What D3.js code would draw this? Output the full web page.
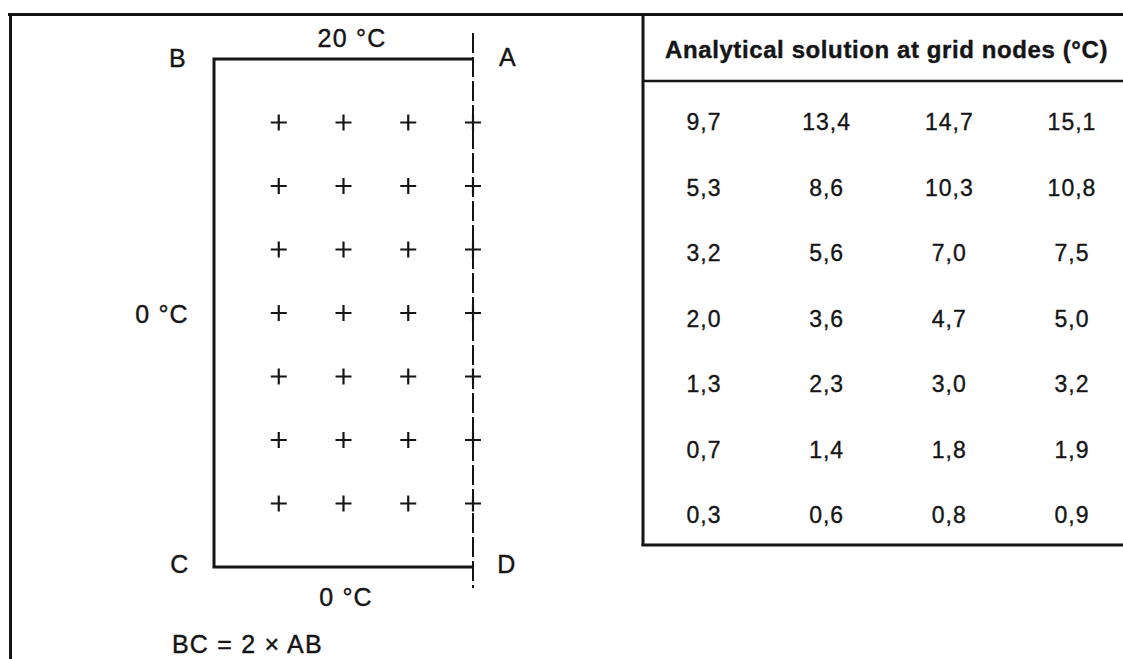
<!DOCTYPE html>
<html><head><meta charset="utf-8">
<script src="https://cdn.jsdelivr.net/npm/d3@7"></script>
<style>html,body{margin:0;padding:0;background:#fff;}svg{display:block;font-family:"Liberation Sans",Arial,sans-serif;}</style>
</head><body>
<svg id="c" width="1123" height="659"></svg>
<script>
// ---- data ----
const tableTitle = "Analytical solution at grid nodes (°C)";
const row1 = ["9,7","13,4","14,7","15,1"];
const row2 = ["5,3","8,6","10,3","10,8"];
const row3 = ["3,2","5,6","7,0","7,5"];
const row4 = ["2,0","3,6","4,7","5,0"];
const row5 = ["1,3","2,3","3,0","3,2"];
const row6 = ["0,7","1,4","1,8","1,9"];
const row7 = ["0,3","0,6","0,8","0,9"];
const tableRows = [row1,row2,row3,row4,row5,row6,row7];
const gridCols = [1,2,3,4];          // node column indices (4 = symmetry line AD)
const gridRows = [1,2,3,4,5,6,7];    // node row indices
const cornerLabels = ["B","A","C","D"];
const edgeLabels = ["20 °C","0 °C","0 °C"];
const note = "BC = 2 × AB";

const ink = "#151515";
const svg = d3.select("#c");
// scales for the plate diagram (grid units)
const x = d3.scaleLinear().domain([0,4]).range([214,473]);
const y = d3.scaleLinear().domain([0,8]).range([59,567]);
// scales for the table
const tx = d3.scalePoint().domain([0,1,2,3]).range([704,1072]);
const ty = d3.scalePoint().domain(d3.range(7)).range([130,523]);

// outer frame
svg.append("line").attr("x1",8).attr("x2",1123).attr("y1",14.5).attr("y2",14.5).attr("stroke",ink).attr("stroke-width",3);
svg.append("line").attr("x1",10.5).attr("x2",10.5).attr("y1",13).attr("y2",659).attr("stroke",ink).attr("stroke-width",3);

// plate: A-B, B-C, C-D solid
svg.append("path")
  .attr("d",`M${x(4)},${y(0)}H${x(0)}V${y(8)}H${x(4)}`)
  .attr("fill","none").attr("stroke",ink).attr("stroke-width",3);
// dashed symmetry line through A-D
svg.append("line").attr("x1",x(4)).attr("x2",x(4)).attr("y1",y(0)-26).attr("y2",y(8)+21)
  .attr("stroke",ink).attr("stroke-width",2).attr("stroke-dasharray","20,4");

// grid node crosses
const nodes = [];
gridRows.forEach(r=>gridCols.forEach(c=>nodes.push({r,c})));
const arm = 8;
const g = svg.append("g").attr("stroke",ink).attr("stroke-width",2.2);
g.selectAll("path.cross").data(nodes).join("path").attr("class","cross")
  .attr("d",d=>`M${x(d.c)-arm},${y(d.r)}h${2*arm}M${x(d.c)},${y(d.r)-arm}v${2*arm}`);

// labels
const lab = (t,xx,yy,anchor="middle",size=25,weight="normal",ls=1.2) =>
  svg.append("text").attr("x",xx).attr("y",yy).attr("text-anchor",anchor)
     .attr("font-size",size).attr("font-weight",weight).attr("letter-spacing",ls)
     .attr("fill",ink).attr("stroke",ink).attr("stroke-width",0.4).text(t);
lab(cornerLabels[0], 178, 67);
lab(cornerLabels[1], 508, 66);
lab(cornerLabels[2], 180, 573);
lab(cornerLabels[3], 507, 573);
lab(edgeLabels[0], 352, 47);
lab(edgeLabels[1], 162, 323);
lab(edgeLabels[2], 346, 606);
lab(note, 172, 653, "start");

// table
const tLeft = 643;
svg.append("line").attr("x1",tLeft).attr("x2",tLeft).attr("y1",13).attr("y2",546).attr("stroke",ink).attr("stroke-width",3);
svg.append("line").attr("x1",tLeft).attr("x2",1123).attr("y1",81).attr("y2",81).attr("stroke",ink).attr("stroke-width",2.5);
svg.append("line").attr("x1",tLeft-1.5).attr("x2",1123).attr("y1",545).attr("y2",545).attr("stroke",ink).attr("stroke-width",3);
lab(tableTitle, 665, 58, "start", 24, "bold", 0.6);
tableRows.forEach((row,ri)=>{
  svg.append("g").selectAll("text").data(row).join("text")
    .attr("x",(d,ci)=>tx(ci)).attr("y",ty(ri)).attr("text-anchor","middle")
    .attr("font-size",23).attr("letter-spacing",1).attr("fill",ink)
    .attr("stroke",ink).attr("stroke-width",0.35).text(d=>d);
});
</script>
</body></html>
